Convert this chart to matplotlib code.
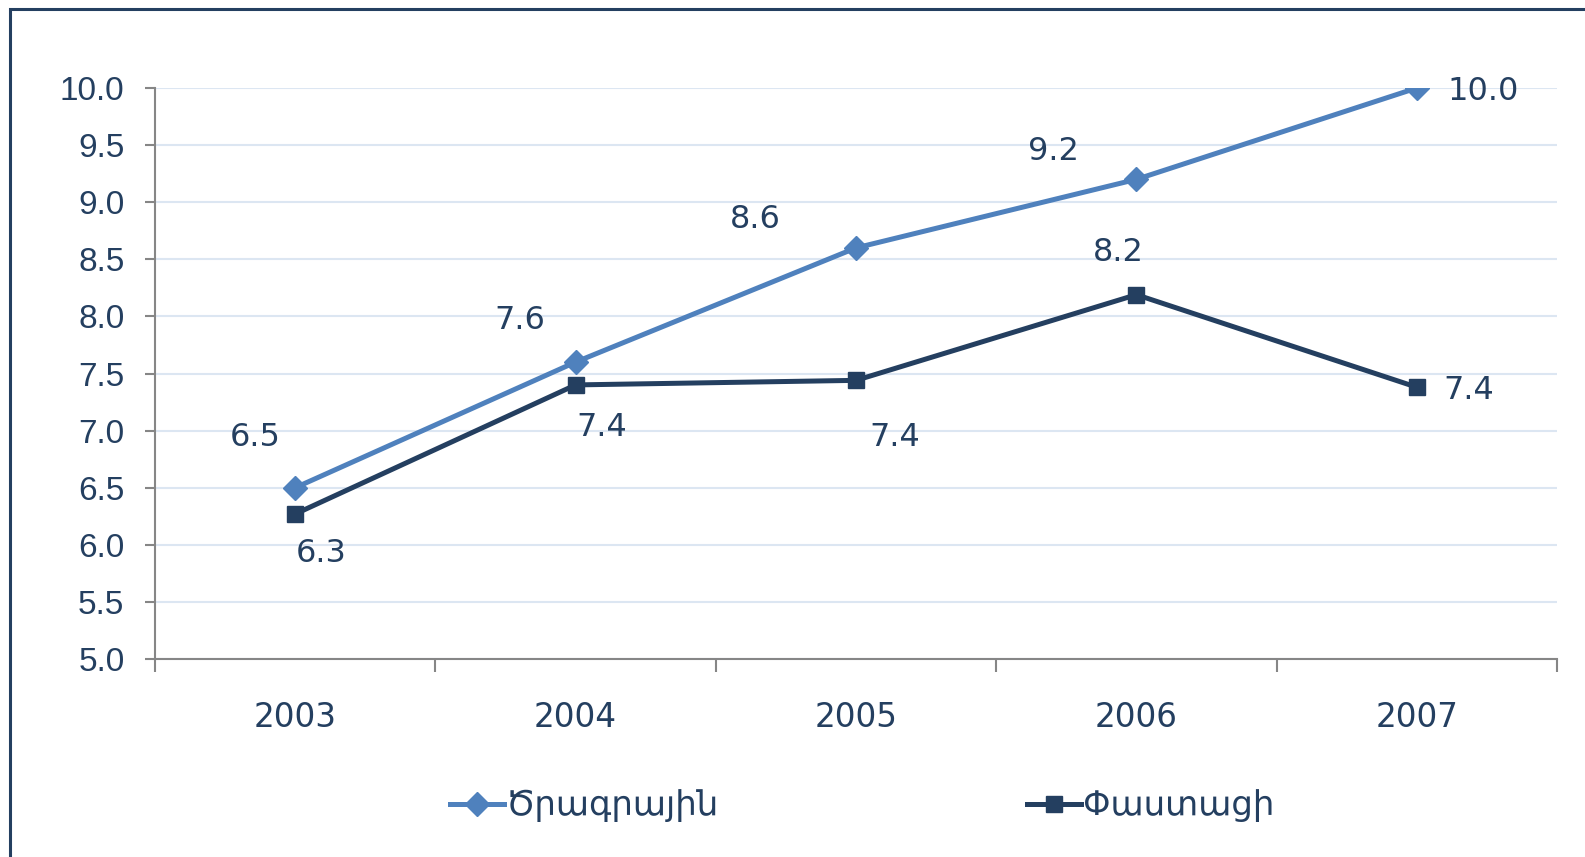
import matplotlib
matplotlib.use("Agg")
import matplotlib.pyplot as plt
from matplotlib.patches import Rectangle

years = ["2003", "2004", "2005", "2006", "2007"]
plan = [6.5, 7.6, 8.6, 9.2, 10.0]
actual = [6.27, 7.40, 7.44, 8.19, 7.38]
plan_labels = ["6.5", "7.6", "8.6", "9.2", "10.0"]
actual_labels = ["6.3", "7.4", "7.4", "8.2", "7.4"]
series_names = ["Ծրագրային", "Փաստացի"]

plt.rcParams['font.family'] = ['Liberation Sans', 'DejaVu Sans']

C_PLAN = "#4F81BD"
C_ACT = "#243F60"
C_TXT = "#243F60"

fig = plt.figure(figsize=(15.85, 8.57), dpi=100)
ax = fig.add_axes([155/1585, 1-659/857, (1557-155)/1585, (659-88)/857])

x = list(range(len(years)))
ax.plot(x, plan, color=C_PLAN, lw=3.6, marker='D', markersize=12, label=series_names[0], zorder=3)
ax.plot(x, actual, color=C_ACT, lw=3.6, marker='s', markersize=11, label=series_names[1], zorder=3)

ax.set_xlim(-0.5, len(years)-0.5)
ax.set_ylim(5.0, 10.0)
ax.set_yticks([5.0 + 0.5*i for i in range(11)])
ax.set_yticklabels([f"{5.0+0.5*i:.1f}" for i in range(11)])
ax.set_xticks(x)
ax.set_xticklabels(years, family='DejaVu Sans')
ax.set_xticks([i-0.5 for i in range(len(years)+1)], minor=True)
ax.tick_params(axis='x', which='major', length=0, pad=30.5, labelsize=23.5, labelcolor=C_TXT)
ax.tick_params(axis='x', which='minor', length=9, width=1.5, color="#868686", direction='out')
ax.tick_params(axis='y', length=7, width=1.5, color="#868686", pad=15, labelsize=24, labelcolor=C_TXT)
ax.grid(axis='y', color="#DCE6F2", lw=1.5, zorder=0)
ax.set_axisbelow(True)
for s in ['top', 'right']:
    ax.spines[s].set_visible(False)
for s in ['left', 'bottom']:
    ax.spines[s].set_color("#868686")
    ax.spines[s].set_linewidth(1.5)

plan_off = [(-40, 50), (-56, 42), (-101, 28), (-83, 28), (66, -3)]
act_off = [(26, -40), (26, -43), (39, -57), (-18, 42), (52, -3)]
for i in range(len(years)):
    ax.annotate(plan_labels[i], (x[i], plan[i]), xytext=plan_off[i], textcoords='offset pixels',
                ha='center', va='center', fontsize=23, color=C_TXT, family='DejaVu Sans')
    ax.annotate(actual_labels[i], (x[i], actual[i]), xytext=act_off[i], textcoords='offset pixels',
                ha='center', va='center', fontsize=23, color=C_TXT, family='DejaVu Sans')

leg = fig.legend(loc='center', bbox_to_anchor=(862/1585, 1-806/857), ncol=2, frameon=False,
                 prop={'family': 'DejaVu Sans', 'size': 24.5}, handlelength=1.6,
                 handletextpad=0.05, columnspacing=9.05, labelcolor=C_TXT)

fig.add_artist(Rectangle((10/1585, -0.1), 1.2, 1 - 9/857 + 0.1, transform=fig.transFigure,
                         fill=False, edgecolor=C_ACT, lw=2.2))

fig.savefig("out.png", dpi=100)
